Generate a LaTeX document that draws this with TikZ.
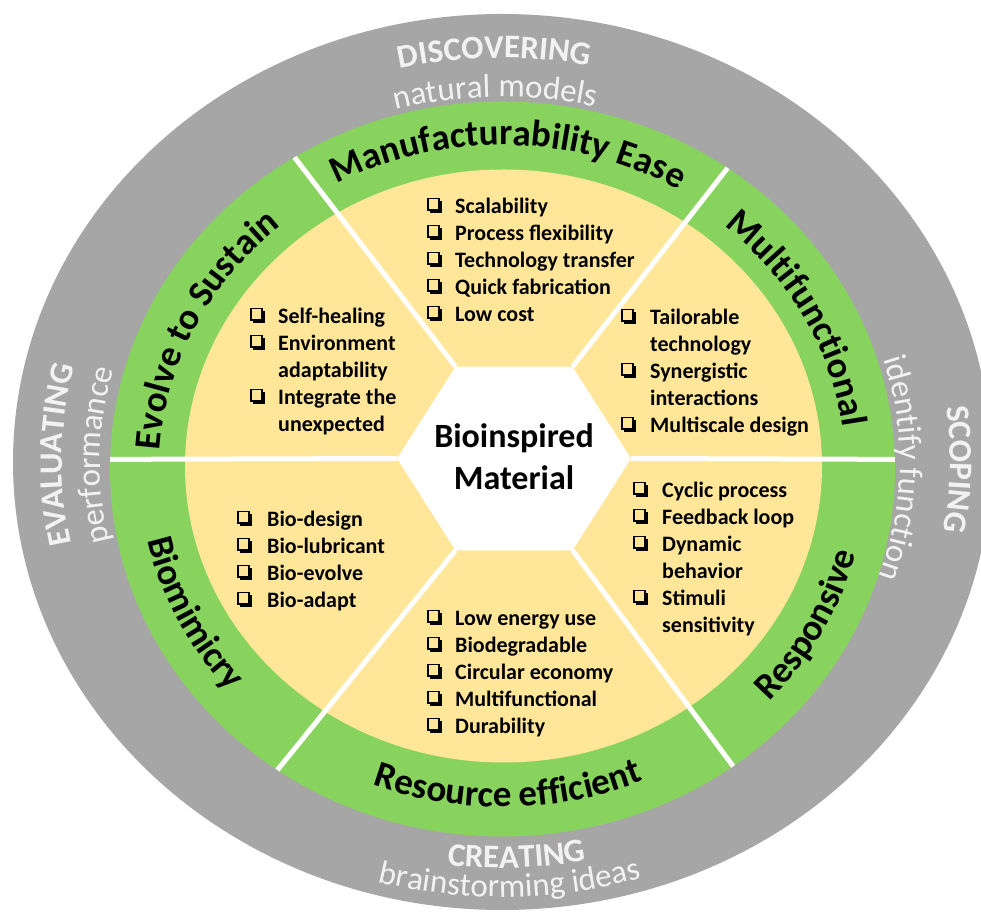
\documentclass[tikz,border=0pt]{standalone}
\usepackage{fontspec}
\setmainfont{Carlito}
\usetikzlibrary{calc, decorations.text}
\definecolor{ringGray}{HTML}{A6A6A6}
\definecolor{ringGreen}{HTML}{88D25E}
\definecolor{ringYellow}{HTML}{FFE699}
\definecolor{ringText}{HTML}{F2F2F2}
% shadowed check box
\newcommand\bx{\makebox[15pt][l]{%
  \rlap{\kern2.5pt\rule{12.5pt}{12.5pt}}%
  \rlap{\rule[2.5pt]{12.5pt}{12.5pt}}%
  \rlap{\kern1.4pt\textcolor{ringYellow}{\rule[3.9pt]{9.7pt}{9.7pt}}}}}
\newcommand\itm[1]{\bx & #1\\}
\newcommand\itc[1]{ & #1\\}
\newcommand\bandfont{\fontsize{37}{42}\selectfont\bfseries}
\newcommand\ringfont{\fontsize{33}{38}\selectfont}
\tikzset{
  item list/.style={anchor=north west, inner sep=0pt, font=\fontsize{22}{27}\selectfont\bfseries},
  band top/.style={decorate, decoration={text along path, text align=center, text={|\bandfont|#1}}},
  ring title/.style={decorate, decoration={text along path, text align=center, text color=ringText, text={|\ringfont\bfseries|#1}}},
  ring sub/.style={decorate, decoration={text along path, text align=center, text color=ringText, text={|\ringfont|#1}}},
  divider/.style={white, line width=5pt}
}

\begin{document}
\begin{tikzpicture}[x=1pt, y=1pt]
\useasboundingbox (0,0) rectangle (981,920);
\coordinate (gr) at (502,458);
\coordinate (gc) at (502.5,451);
\coordinate (yc) at (503.5,454);
\coordinate (hc) at (514,461.5);
% rings
\fill[ringGray] (gr) ellipse [x radius=489pt, y radius=448pt];
\fill[ringGreen] (gc) ellipse [x radius=392.5pt, y radius=367.5pt];
\fill[ringYellow] (yc) ellipse [x radius=318.5pt, y radius=296.5pt];
% hexagon corners and rim points
\foreach \a/\t [count=\n] in {0/1.5, 60/55, 120/122, 180/178.5, 240/235, 300/306} {
  \coordinate (h\n) at ($(hc)+(\a:117pt and 106pt)$);
  \coordinate (r\n) at ($(gc)+(\t:392.5pt and 367.5pt)$);
}
\foreach \n in {1,...,6}
  \draw[divider] (h\n) -- (r\n);
\fill[white] (h1) -- (h2) -- (h3) -- (h4) -- (h5) -- (h6) -- cycle;
\node[font=\fontsize{34}{42}\selectfont\bfseries, align=center] (core) at (514,463) {Bioinspired\\Material};

% item lists
\node[item list] (manuf) at (427,726) {\begin{tabular}{@{}p{28pt}@{}l@{}}
  \itm{Scalability}\itm{Process flexibility}\itm{Technology transfer}\itm{Quick fabrication}\itm{Low cost}
\end{tabular}};
\node[item list] (evolve) at (250,616) {\begin{tabular}{@{}p{28pt}@{}l@{}}
  \itm{Self-healing}\itm{Environment}\itc{adaptability}\itm{Integrate the}\itc{unexpected}
\end{tabular}};
\node[item list] (multi) at (621,615) {\begin{tabular}{@{}p{29pt}@{}l@{}}
  \itm{Tailorable}\itc{technology}\itm{Synergistic}\itc{interactions}\itm{Multiscale design}
\end{tabular}};
\node[item list] (resp) at (633,442) {\begin{tabular}{@{}p{29pt}@{}l@{}}
  \itm{Cyclic process}\itm{Feedback loop}\itm{Dynamic}\itc{behavior}\itm{Stimuli}\itc{sensitivity}
\end{tabular}};
\node[item list] (biomim) at (237,413) {\begin{tabular}{@{}p{30pt}@{}l@{}}
  \itm{Bio-design}\itm{Bio-lubricant}\itm{Bio-evolve}\itm{Bio-adapt}
\end{tabular}};
\node[item list] (resource) at (427,314) {\begin{tabular}{@{}p{28pt}@{}l@{}}
  \itm{Low energy use}\itm{Biodegradable}\itm{Circular economy}\itm{Multifunctional}\itm{Durability}
\end{tabular}};

% green band titles
\path[band top={Manufacturability Ease}] ($(gc)+(134:347pt and 324pt)$) arc[start angle=134, end angle=44, x radius=347pt, y radius=324pt];
\path[band top={Evolve to Sustain}] ($(gc)+(199:343pt and 318pt)$) arc[start angle=199, end angle=109, x radius=343pt, y radius=318pt];
\path[band top={Multifunctional}] ($(gc)+(73:343pt and 318pt)$) arc[start angle=73, end angle=-17, x radius=343pt, y radius=318pt];
\path[band top={Biomimicry}] ($(gc)+(161:363pt and 338pt)$) arc[start angle=161, end angle=251, x radius=363pt, y radius=338pt];
\path[band top={Resource efficient}] ($(gc)+(226:363pt and 338pt)$) arc[start angle=226, end angle=316, x radius=363pt, y radius=338pt];
\path[band top={Responsive}] ($(gc)+(287:365pt and 340pt)$) arc[start angle=287, end angle=377, x radius=365pt, y radius=340pt];

% gray ring labels
\path[ring title={DISCOVERING}] ($(gr)+(136:445pt and 404pt)$) arc[start angle=136, end angle=46, x radius=445pt, y radius=404pt];
\path[ring sub={natural models}] ($(gr)+(136:406pt and 365pt)$) arc[start angle=136, end angle=46, x radius=406pt, y radius=365pt];
\path[ring title={CREATING}] ($(gr)+(227:447pt and 406pt)$) arc[start angle=227, end angle=317, x radius=447pt, y radius=406pt];
\path[ring sub={brainstorming ideas}] ($(gr)+(226:476pt and 435pt)$) arc[start angle=226, end angle=316, x radius=476pt, y radius=435pt];
\path[ring title={EVALUATING}] ($(gr)+(224:440pt and 399pt)$) arc[start angle=224, end angle=134, x radius=440pt, y radius=399pt];
\path[ring sub={performance}] ($(gr)+(224:402pt and 361pt)$) arc[start angle=224, end angle=134, x radius=402pt, y radius=361pt];
\path[ring title={SCOPING}] ($(gr)+(44:448pt and 407pt)$) arc[start angle=44, end angle=-46, x radius=448pt, y radius=407pt];
\path[ring sub={identify function}] ($(gr)+(44:398pt and 357pt)$) arc[start angle=44, end angle=-46, x radius=398pt, y radius=357pt];
\end{tikzpicture}
\end{document}
